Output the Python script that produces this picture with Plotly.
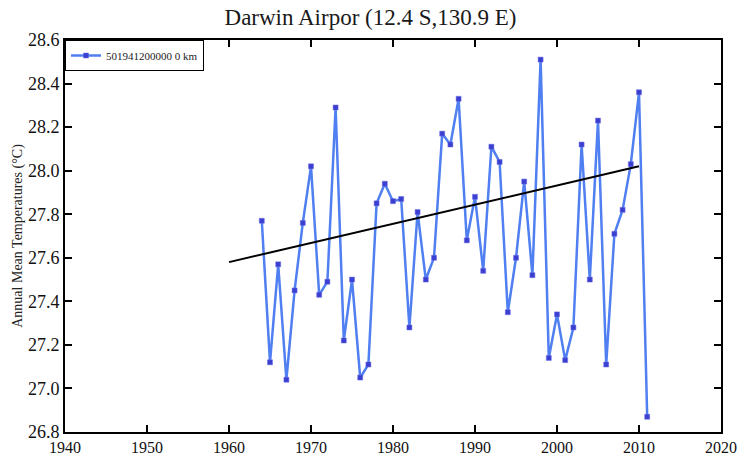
import plotly.graph_objects as go

years = list(range(1964, 2012))
temps = [27.77, 27.12, 27.57, 27.04, 27.45, 27.76, 28.02, 27.43, 27.49, 28.29,
         27.22, 27.50, 27.05, 27.11, 27.85, 27.94, 27.86, 27.87, 27.28, 27.81,
         27.50, 27.60, 28.17, 28.12, 28.33, 27.68, 27.88, 27.54, 28.11, 28.04,
         27.35, 27.60, 27.95, 27.52, 28.51, 27.14, 27.34, 27.13, 27.28, 28.12,
         27.50, 28.23, 27.11, 27.71, 27.82, 28.03, 28.36, 26.87]
trend_years = [1960, 2010]
trend_vals = [27.58, 28.02]
x_ticks = [1940, 1950, 1960, 1970, 1980, 1990, 2000, 2010, 2020]
y_ticks = [26.8, 27.0, 27.2, 27.4, 27.6, 27.8, 28.0, 28.2, 28.4, 28.6]

serif = "Liberation Serif, Times New Roman, serif"

fig = go.Figure()
fig.add_trace(go.Scatter(
    x=years, y=temps, mode="lines+markers", name="501941200000 0 km",
    line=dict(color="#4f7ff0", width=2.5),
    marker=dict(symbol="square", size=5, color="#3b3fd0",
                line=dict(color="#6a6ae8", width=0.5)),
))
fig.add_trace(go.Scatter(
    x=trend_years, y=trend_vals, mode="lines", showlegend=False,
    line=dict(color="black", width=2),
))

axis_common = dict(
    showline=True, linecolor="black", linewidth=2, mirror="ticks",
    ticks="inside", ticklen=7, tickwidth=1.5, tickcolor="black",
    showgrid=False, zeroline=False,
)

fig.update_layout(
    width=741, height=459,
    margin=dict(l=65, r=20, t=40, b=27),
    paper_bgcolor="white", plot_bgcolor="white",
    title=dict(text="Darwin Airpor (12.4 S,130.9 E)", x=0.5, xanchor="center",
               y=0.962, yanchor="middle",
               font=dict(family=serif, size=23, color="#1a1a1a")),
    xaxis=dict(range=[1940, 2020], tickvals=x_ticks, automargin=False,
               ticklabelstandoff=0,
               tickfont=dict(family=serif, size=16, color="#111"),
               **axis_common),
    yaxis=dict(range=[26.8, 28.6], tickvals=y_ticks, tickformat=".1f",
               tickfont=dict(family=serif, size=18, color="#111"),
               title=dict(text="Annual Mean Temperatures (°C)", standoff=2,
                          font=dict(family=serif, size=14, color="#222")),
               **axis_common),
    legend=dict(x=0, y=1, xanchor="left", yanchor="top",
                bordercolor="black", borderwidth=1, bgcolor="white",
                font=dict(family=serif, size=11, color="#222"),
                tracegroupgap=0, itemwidth=30),
    showlegend=True,
)

fig.write_html("out.html")
